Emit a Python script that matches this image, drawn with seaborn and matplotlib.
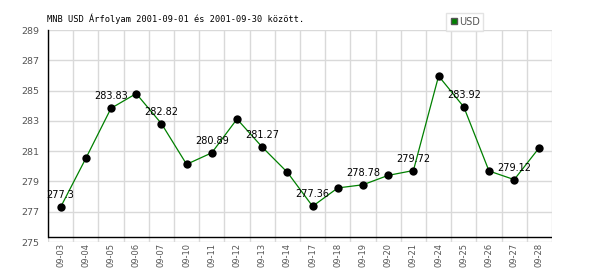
import matplotlib
matplotlib.use("Agg")
import matplotlib.pyplot as plt
import seaborn as sns
import pandas as pd
import numpy as np
from matplotlib.lines import Line2D

dates = ["09-03", "09-04", "09-05", "09-06", "09-07", "09-10", "09-11", "09-12", "09-13", "09-14",
         "09-17", "09-18", "09-19", "09-20", "09-21", "09-24", "09-25", "09-26", "09-27", "09-28"]
usd = [277.30, 280.52, 283.83, 284.80, 282.82, 280.13, 280.89, 283.12, 281.27, 279.60,
       277.36, 278.57, 278.78, 279.40, 279.72, 285.96, 283.92, 279.69, 279.12, 281.24]
yticks = [275, 277, 279, 281, 283, 285, 287, 289]
title = "MNB USD Árfolyam 2001-09-01 és 2001-09-30 között."

df = pd.DataFrame({"date": dates, "usd": usd})
df["pos"] = np.arange(len(df))

sns.set_style("white")
fig = plt.figure(figsize=(6, 2.7), dpi=100)
ax = fig.add_axes([48/600, 1-242/270, 504/600, 212/270])

sns.lineplot(data=df, x="pos", y="usd", ax=ax, color="#008000", linewidth=0.9, zorder=3)
sns.scatterplot(data=df, x="pos", y="usd", ax=ax, color="black", s=36, edgecolor="black",
                linewidth=0, zorder=4)

for i, (p, v) in enumerate(zip(df["pos"], df["usd"])):
    if i % 2 == 0:
        ax.text(p, v + 0.45, f"{v:g}", ha="center", va="bottom", fontsize=7,
                family="DejaVu Sans", color="black", zorder=5)

ax.set_xlim(-0.5, len(dates) - 0.5)
ax.set_ylim(275, 289)
ax.set_yticks(yticks)
ax.set_yticklabels([str(t) for t in yticks], fontsize=6.8, color="#555555")
ax.set_xticks(df["pos"])
ax.set_xticklabels(dates, rotation=90, fontsize=6.0, color="#555555")
ax.set_xticks(np.arange(-0.5, len(dates), 1.0), minor=True)
ax.tick_params(axis="y", which="major", length=4, color="#cccccc", pad=2)
ax.tick_params(axis="x", which="major", length=0, pad=0.5)
ax.tick_params(axis="x", which="minor", length=0)
ax.grid(False)
ax.yaxis.grid(True, color="#d9d9d9", linewidth=1)
ax.xaxis.grid(True, which="minor", color="#d9d9d9", linewidth=1)
ax.set_axisbelow(True)
ax.set_xlabel("")
ax.set_ylabel("")

for s in ["top", "right", "bottom"]:
    ax.spines[s].set_visible(False)
ax.spines["left"].set_color("black")
ax.spines["left"].set_linewidth(1.0)
ax.spines["left"].set_bounds(275.3, 289)
ax.axhline(275.3, color="black", linewidth=1.0, zorder=2)

fig.text(47/600, 1-19/270, title, fontsize=6.2, family="DejaVu Sans Mono", color="black",
         va="center", ha="left")

handle = Line2D([], [], marker="s", linestyle="none", markerfacecolor="#008000",
                markeredgecolor="#555555", markersize=5)
leg = fig.legend([handle], ["USD"], loc="upper left", bbox_to_anchor=(446/600, 1-13/270),
                 fontsize=7, frameon=True, fancybox=False, borderpad=0.4, handletextpad=0.1,
                 handlelength=0.8, borderaxespad=0)
leg.get_frame().set_edgecolor("#dddddd")
leg.get_frame().set_linewidth(1)
for t in leg.get_texts():
    t.set_color("#555555")

fig.savefig("out.png", dpi=100)
